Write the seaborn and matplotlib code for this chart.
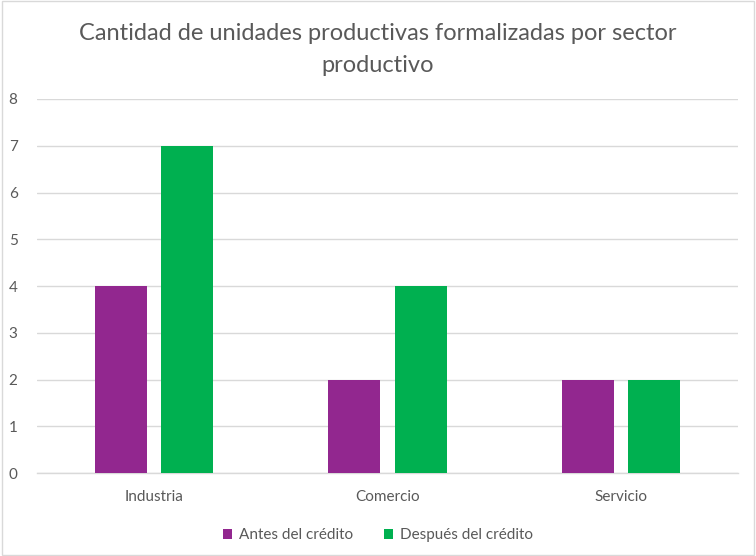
import matplotlib
matplotlib.use("Agg")
import matplotlib.pyplot as plt
from matplotlib.patches import Rectangle
import seaborn as sns
import pandas as pd

sectores = ["Industria", "Comercio", "Servicio"]
antes = [4, 2, 2]
despues = [7, 4, 2]
series = ["Antes del crédito", "Después del crédito"]
colores = ["#92278F", "#00B050"]
yticks = [0, 1, 2, 3, 4, 5, 6, 7, 8]

df = pd.DataFrame({
    "Sector": sectores * 2,
    "Serie": [series[0]] * len(sectores) + [series[1]] * len(sectores),
    "Valor": antes + despues,
})

sns.set_theme(style="white")
plt.rcParams["font.family"] = ["Lato", "DejaVu Sans"]

texto = "#595959"
grid = "#D9D9D9"

fig = plt.figure(figsize=(7.56, 5.56), dpi=100)
ax = fig.add_axes([0.049, 0.149, 0.927, 0.673])

sns.barplot(data=df, x="Sector", y="Valor", hue="Serie", order=sectores,
            hue_order=series, palette=colores, width=0.57, gap=0.218,
            saturation=1, legend=False, ax=ax, zorder=3,
            linewidth=0, edgecolor="none")

ax.set_ylim(0, 8)
ax.set_yticks(yticks)
ax.set_yticklabels([str(v) for v in yticks])
ax.set_xlim(-0.5, len(sectores) - 0.5)
ax.yaxis.grid(True, color=grid, linewidth=1)
ax.set_axisbelow(True)
for s in ["top", "right", "left"]:
    ax.spines[s].set_visible(False)
ax.spines["bottom"].set_color(grid)
ax.spines["bottom"].set_linewidth(1)
ax.set_xlabel("")
ax.set_ylabel("")
ax.tick_params(axis="both", length=0, labelsize=11, colors=texto)
ax.tick_params(axis="y", pad=14)
ax.tick_params(axis="x", pad=12)

fig.suptitle("Cantidad de unidades productivas formalizadas por sector\nproductivo",
             y=0.958, fontsize=17, color=texto, linespacing=1.6)

handles = [Rectangle((0, 0), 1, 1, facecolor=c, edgecolor="none") for c in colores]
fig.legend(handles, series, loc="lower center", ncol=2, frameon=False,
           bbox_to_anchor=(0.5, 0.0), fontsize=11, labelcolor=texto,
           handlelength=0.6, handleheight=0.6, handletextpad=0.45,
           columnspacing=2.0)

# light frame around the chart area
fig.add_artist(Rectangle((0.002, 0.002), 0.996, 0.996, transform=fig.transFigure,
                         fill=False, edgecolor=grid, linewidth=1))

fig.savefig("out.png", dpi=100, facecolor="white")
